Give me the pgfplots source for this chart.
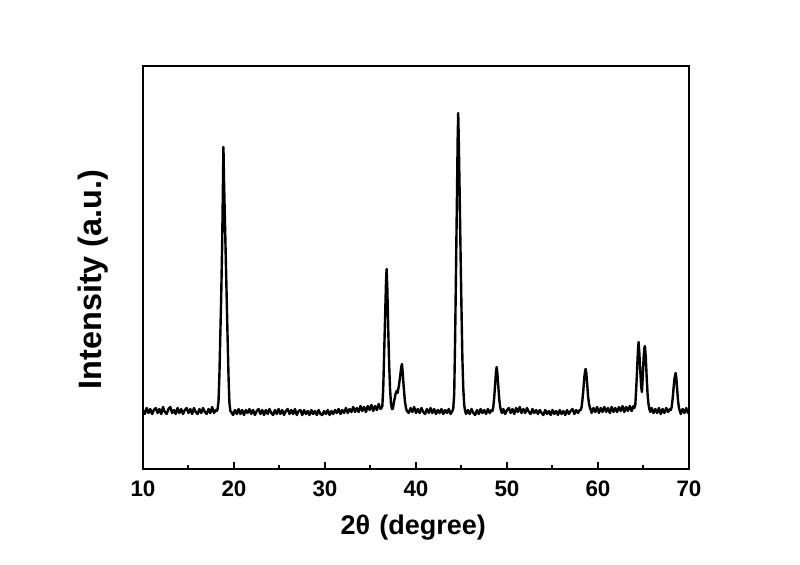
\documentclass[border=0pt]{standalone}
\usepackage{fontspec}
\setmainfont{Liberation Sans}
\usepackage{pgfplots}
\pgfplotsset{compat=1.18}
\begin{document}
\begin{tikzpicture}
\path[use as bounding box] (-71.5pt,-47.5pt) rectangle (328.5pt,234.5pt);
\begin{axis}[
  scale only axis, width=273pt, height=201.5pt,
  xmin=10, xmax=70, ymin=0, ymax=403,
  xtick={10,20,...,70}, minor x tick num=1,
  ytick=\empty,
  tick align=inside, xtick pos=bottom,
  axis line style={line width=1.25pt},
  every tick/.style={black, line width=1pt},
  major tick length=3.6pt, minor tick length=2.2pt,
  /pgf/number format/assume math mode=true,
  xticklabel style={font=\bfseries\fontsize{11.2}{13}\selectfont, yshift=-2.4pt},
  xlabel={2θ\,\,(degree)},
  xlabel style={font=\bfseries\fontsize{13.5}{16}\selectfont, at={(axis description cs:0.495,-0.1464)}, anchor=center},
  ylabel={Intensity (a.u.)},
  ylabel style={font=\bfseries\fontsize{16.2}{19}\selectfont, at={(axis description cs:-0.0916,0.47)}, anchor=center},
]
\addplot[black, line width=1.2pt, line join=round] coordinates {
(10.0,59)(10.2,55)(10.4,61)(10.6,56)(10.8,60)(11.0,55)(11.2,59)(11.4,61)(11.6,56)(11.8,60)
(12.0,55)(12.2,62)(12.4,57)(12.6,55)(12.8,60)(13.0,62)(13.2,56)(13.4,59)(13.6,55)(13.8,61)
(14.0,56)(14.2,60)(14.4,55)(14.6,59)(14.8,61)(15.0,56)(15.2,60)(15.4,55)(15.6,61)(15.8,57)
(16.0,55)(16.2,60)(16.4,56)(16.6,61)(16.8,57)(17.0,55)(17.2,60)(17.4,56)(17.6,62)(17.8,56)(18.0,59)
(18.10,58)(18.20,60)(18.30,68)(18.40,95)(18.50,135)(18.60,175)(18.70,225)(18.78,280)(18.84,322)
(18.90,290)(19.00,250)(19.10,210)(19.20,170)(19.30,130)(19.40,92)(19.50,66)(19.60,58)
(19.7,57)(19.9,54)(20.1,59)(20.3,55)(20.5,60)(20.7,55)(20.9,59)(21.1,54)(21.3,59)(21.5,56)
(21.7,60)(21.9,55)(22.1,59)(22.3,54)(22.5,58)(22.7,60)(22.9,55)(23.1,59)(23.3,54)(23.5,59)
(23.7,55)(23.9,60)(24.1,56)(24.3,54)(24.5,59)(24.7,55)(24.9,60)(25.1,55)(25.3,59)(25.5,54)
(25.7,58)(25.9,60)(26.1,55)(26.3,59)(26.5,55)(26.7,60)(26.9,54)(27.1,58)(27.3,59)(27.5,54)
(27.7,59)(27.9,55)(28.1,58)(28.3,54)(28.5,59)(28.7,55)(28.9,58)(29.1,54)(29.3,59)(29.5,55)
(29.7,54)(29.9,58)(30.1,55)(30.3,59)(30.5,54)(30.7,58)(30.9,55)(31.1,59)(31.3,56)(31.5,60)
(31.7,55)(31.9,59)(32.1,56)(32.3,61)(32.5,56)(32.7,60)(32.9,57)(33.1,62)(33.3,57)(33.5,61)
(33.7,57)(33.9,63)(34.1,58)(34.3,62)(34.5,57)(34.7,63)(34.9,59)(35.1,64)(35.3,58)(35.5,63)
(35.7,59)(35.9,65)(36.1,60)
(36.20,61)(36.30,63)(36.40,80)(36.50,115)(36.60,150)(36.70,185)(36.77,200)(36.85,180)
(36.95,140)(37.05,105)(37.15,80)(37.25,66)(37.35,60)(37.45,60)(37.60,68)(37.75,75)(37.87,78)
(37.97,76)(38.10,82)(38.25,92)(38.38,102)(38.46,105)(38.55,95)(38.65,82)(38.78,68)(38.90,61)(39.00,58)
(39.2,56)(39.4,61)(39.6,57)(39.8,62)(40.0,56)(40.2,60)(40.4,56)(40.6,61)(40.8,57)(41.0,55)
(41.2,60)(41.4,56)(41.6,61)(41.8,56)(42.0,60)(42.2,55)(42.4,59)(42.6,56)(42.8,60)(43.0,55)
(43.2,59)(43.4,56)(43.6,60)(43.8,55)
(44.00,58)(44.10,61)(44.20,75)(44.30,130)(44.40,200)(44.50,270)(44.58,330)(44.64,356)
(44.70,330)(44.80,275)(44.90,215)(45.00,160)(45.10,110)(45.20,80)(45.30,64)(45.40,58)
(45.5,55)(45.7,59)(45.9,55)(46.1,60)(46.3,56)(46.5,54)(46.7,59)(46.9,55)(47.1,60)(47.3,56)
(47.5,59)(47.7,55)(47.9,60)(48.1,56)(48.3,59)
(48.40,58)(48.50,62)(48.60,72)(48.70,85)(48.80,98)(48.87,102)(48.95,95)(49.05,82)(49.15,70)(49.25,62)(49.35,58)
(49.45,56)(49.6,60)(49.8,55)(50.0,59)(50.2,61)(50.4,56)(50.6,60)(50.8,55)(51.0,61)(51.2,57)
(51.4,62)(51.6,56)(51.8,60)(52.0,56)(52.2,61)(52.4,57)(52.6,55)(52.8,60)(53.0,56)(53.2,59)
(53.4,55)(53.6,59)(53.8,56)(54.0,54)(54.2,59)(54.4,55)(54.6,58)(54.8,54)(55.0,59)(55.2,55)
(55.4,58)(55.6,54)(55.8,59)(56.0,55)(56.2,58)(56.4,54)(56.6,59)(56.8,55)(57.0,58)(57.2,60)
(57.4,55)(57.6,59)(57.8,56)(58.0,59)
(58.10,59)(58.20,62)(58.30,70)(58.40,80)(58.50,92)(58.60,99)(58.65,100)(58.72,96)(58.82,84)
(58.92,72)(59.02,65)(59.12,61)(59.22,59)
(59.3,56)(59.5,61)(59.7,57)(59.9,62)(60.1,56)(60.3,61)(60.5,57)(60.7,62)(60.9,57)(61.1,61)
(61.3,56)(61.5,62)(61.7,57)(61.9,61)(62.1,57)(62.3,62)(62.5,58)(62.7,63)(62.9,57)(63.1,62)
(63.3,58)(63.5,63)(63.7,58)(63.9,63)
(64.00,61)(64.10,64)(64.20,80)(64.30,100)(64.40,120)(64.46,127)(64.55,115)(64.65,98)(64.75,82)
(64.83,77)(64.92,92)(65.02,112)(65.10,121)(65.16,123)(65.25,112)(65.35,92)(65.45,75)(65.55,65)(65.65,60)
(65.75,57)(65.9,61)(66.1,56)(66.3,60)(66.5,56)(66.7,61)(66.9,55)(67.1,60)(67.3,56)(67.5,61)
(67.7,57)(67.9,60)
(68.00,59)(68.10,62)(68.20,70)(68.30,80)(68.40,90)(68.53,96)(68.60,92)(68.70,80)(68.80,68)(68.90,61)(69.00,58)
(69.1,55)(69.3,60)(69.5,56)(69.7,61)(69.9,56)(70.0,58)
};
\end{axis}
\end{tikzpicture}
\end{document}
